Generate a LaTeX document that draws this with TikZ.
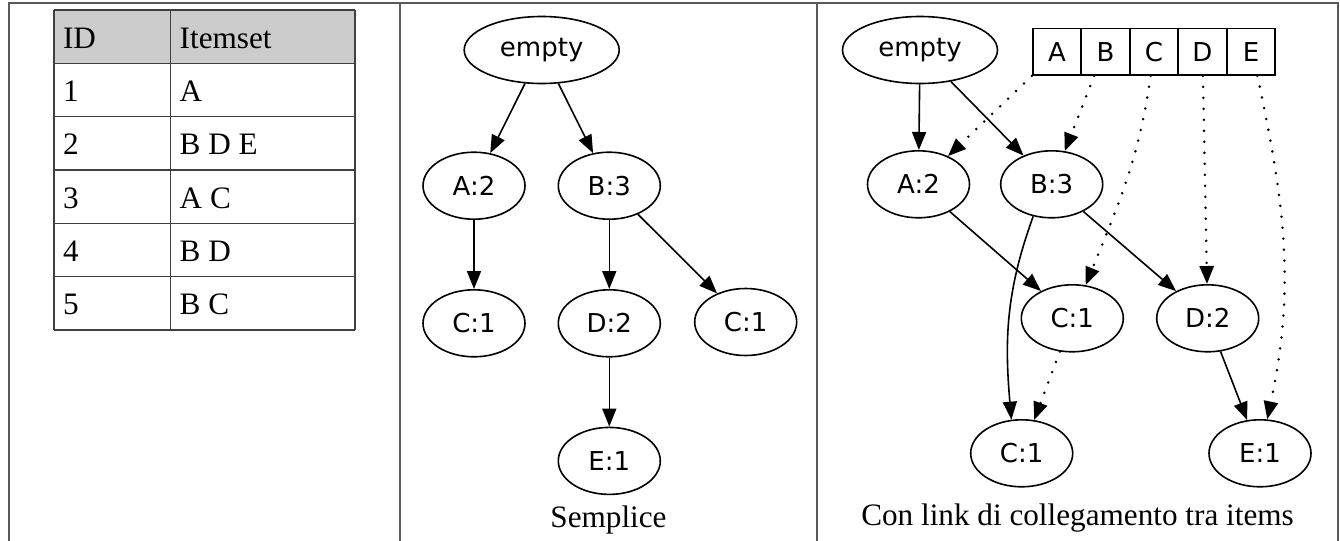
\documentclass[tikz,border=0pt]{standalone}
\usepackage{fontspec}
\setmainfont{Liberation Serif}
\newfontfamily\treefamily{DejaVu Sans}
\usepackage{tikz}
\usetikzlibrary{arrows.meta}
\usetikzlibrary{positioning}
\usetikzlibrary{shapes.geometric}
\usepackage{xcolor}
\definecolor{framegrey}{HTML}{5A5A5A}
\definecolor{rulegrey}{HTML}{404040}
\definecolor{headgrey}{HTML}{CCCCCC}
\newcommand{\treefont}{\treefamily\fontsize{13}{15}\selectfont}
\newcommand{\tabfont}{\fontsize{15.6}{18}\selectfont}

\begin{document}
\begin{tikzpicture}[
    x=0.5pt, y=-0.5pt,
    item/.style={ellipse, draw=black, line width=0.8pt, inner sep=0pt,
      minimum width=51pt, minimum height=33.5pt, font=\treefont},
    rootitem/.style={item, minimum width=77.5pt},
    cellbox/.style={rectangle, draw=black, line width=0.8pt, inner sep=0pt,
      minimum width=24.25pt, minimum height=23.35pt, font=\treefont},
    rowtext/.style={anchor=base west, inner sep=0pt, font=\tabfont},
    caption/.style={anchor=base, inner sep=0pt, font=\tabfont},
    arrow/.style={-{Triangle[length=9pt, width=7pt]}, line width=0.8pt},
    link/.style={arrow, line width=1.4pt, line cap=round,
      dash pattern=on 0pt off 5.5pt},
    node distance=34.5pt,
  ]
  \useasboundingbox (0,0) rectangle (1340,541);

  % outer frame
  \draw[framegrey, line width=0.8pt]
    (8.7,541) -- (8.7,2.7) -- (1337.7,2.7) -- (1337.7,541);
  \draw[framegrey, line width=0.8pt] (400,2.7) -- (400,541);
  \draw[framegrey, line width=0.8pt] (816.7,2.7) -- (816.7,541);

  % transactions table
  \fill[headgrey] (54,10) rectangle (355,62.7);
  \foreach \i in {0,...,6}
    \draw[rulegrey, line width=0.6pt] (54,10+53.33*\i) -- (355,10+53.33*\i);
  \foreach \x in {54,170.7,355}
    \draw[rulegrey, line width=0.6pt] (\x,10) -- (\x,330);
  \foreach \id/\set [count=\i from 0] in
      {ID/Itemset, 1/A, 2/B D E, 3/A C, 4/B D, 5/B C} {
    \node[rowtext] (id\i) at (62.7,48.3+53.33*\i) {\id};
    \node[rowtext] (set\i) at (179.3,48.3+53.33*\i) {\set};
  }

  % plain tree
  \node[rootitem] (root) at (541.7,50) {empty};
  \node[item] (a2) at (474,185.7) {A:2};
  \node[item] (b3) at (609.3,185.7) {B:3};
  \node[item, below=of a2] (c1a) {C:1};
  \node[item, below=of b3] (d2) {D:2};
  \node[item] (c1b) at (745.7,322) {C:1};
  \node[item, below=of d2] (e1) {E:1};
  \node[caption] (plain) at (608.5,527) {Semplice};

  \draw[arrow] (root) -- (a2);
  \draw[arrow] (root) -- (b3);
  \draw[arrow] (a2) -- (c1a);
  \draw[arrow] (b3) -- (d2);
  \draw[arrow] (b3) -- (c1b);
  \draw[arrow] (d2) -- (e1);

  % tree with header table links
  \node[rootitem] (lroot) at (920,50) {empty};
  \foreach \c [count=\i from 0] in {A,B,C,D,E}
    \node[cellbox] (cell\c) at (1057+48.5*\i,51.7) {\c};
  \node[item] (la2) at (918.5,184.3) {A:2};
  \node[item] (lb3) at (1051.7,184.3) {B:3};
  \node[item] (lc1) at (1072.3,318.3) {C:1};
  \node[item] (ld2) at (1207.7,318.3) {D:2};
  \node[item] (lc1b) at (1021.7,453.3) {C:1};
  \node[item] (le1) at (1260,453.3) {E:1};
  \node[caption] (linked) at (1077.5,525) {Con link di collegamento tra items};

  \draw[arrow] (lroot) -- (la2);
  \draw[arrow] (lroot) -- (lb3);
  \draw[arrow] (la2) -- (lc1);
  \draw[arrow] (lb3) -- (ld2);
  \draw[arrow] (lb3.240) to[out=250, in=95] (lc1b.107);
  \draw[arrow] (ld2) -- (le1);

  \draw[link] (cellA.south west) -- (la2);
  \draw[link] (cellB.245) -- (lb3);
  \draw[link] (cellC.262) to[out=262, in=68] (lc1);
  \draw[link] (cellD) -- (ld2);
  \draw[link] (cellE.285) to[out=282, in=78] (le1);
  \draw[link] (lc1) -- (lc1b);
\end{tikzpicture}
\end{document}
